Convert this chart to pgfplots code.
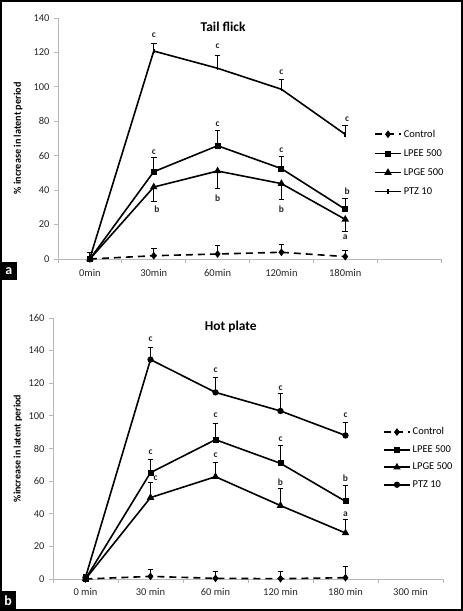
\documentclass[border=0pt]{standalone}
\usepackage{pgfplots}
\pgfplotsset{compat=1.18}
\usepackage{pgfplotstable}
\usepackage{fontspec}
\setmainfont{Carlito}

% Tail flick
\pgfplotstableread{
x y e
0 0 0
1 1.9 4.1
2 2.9 4.7
3 3.9 4.6
4 1.4 3.4
}\tfcontrol
\pgfplotstableread{
x y e
0 0 0
1 50.7 8.3
2 65.8 8.6
3 52.5 6.8
4 28.9 6.5
}\tflpee
\pgfplotstableread{
x y e
0 0 0
1 41.8 8.5
2 51.1 10.4
3 43.8 9.5
4 23.0 7.1
}\tflpge
\pgfplotstableread{
x y e
0 0.5 3
1 120.8 4.5
2 110.8 7.7
3 98.6 5.8
4 72.4 5.1
}\tfptz
% Hot plate
\pgfplotstableread{
x y e
0 0 0
1 1.6 4.5
2 0.4 4.3
3 0.2 4.5
4 0.8 7.0
}\hpcontrol
\pgfplotstableread{
x y e
0 0 0
1 65.2 8.0
2 85.4 10.2
3 70.9 10.8
4 47.6 10.0
}\hplpee
\pgfplotstableread{
x y e
0 0 0
1 49.9 9.1
2 62.7 8.8
3 45.0 10.6
4 28.2 8.2
}\hplpge
\pgfplotstableread{
x y e
0 1 2
1 134.5 7.5
2 114.4 9.4
3 103.0 10.6
4 88.0 7.8
}\hpptz

\pgfplotsset{
  panel/.style={
    scale only axis, clip=false,
    xmin=-0.5, xmax=5.5, ymin=0,
    axis x line*=bottom, axis y line*=left,
    axis line style={draw=gray!55, line width=0.9bp},
    tick align=outside,
    xtick={0,...,5},
    minor xtick={-0.5,0.5,...,5.5},
    major x tick style={draw=none},
    minor x tick style={draw=gray!55, line width=0.9bp},
    ytick style={draw=gray!55, line width=0.9bp},
    major tick length=4bp, minor tick length=4bp,
    tick label style={font=\fontsize{10.5}{12}\selectfont, text=black!85},
    /pgf/number format/assume math mode=true,
    legend style={draw=none, fill=none, font=\fontsize{10.5}{12}\selectfont, cells={anchor=west}, inner sep=0pt, row sep=6.8bp, anchor=north west},
    legend image code/.code={\draw[mark repeat=2,mark phase=2,#1] plot coordinates {(0bp,0bp) (13bp,0bp) (26bp,0bp)};},
  },
  ser/.style={black, line width=1.6bp, mark options={solid},
    error bars/y dir=plus, error bars/y explicit,
    error bars/error bar style={line width=1bp, solid},
    error bars/error mark options={rotate=90, mark size=2.8bp, line width=1bp, solid}},
}
\tikzset{lett/.style={font=\bfseries\fontsize{9.5}{10}\selectfont, text=black!85}}

\begin{document}
\begin{tikzpicture}
\useasboundingbox (0,0) rectangle (463bp,611bp);

% ---------- panel a ----------
\begin{axis}[panel, at={(58bp,352bp)}, anchor=south west,
  width=383bp, height=241bp, ymax=140, ytick={0,20,...,140},
  xticklabels={0min,30min,60min,120min,180min,{}},
  xticklabel style={yshift=-3bp}, yticklabel style={xshift=-1bp},
  ylabel={\% increase in latent period},
  ylabel style={at={(axis description cs:-0.104,0.5)}, anchor=center, font=\bfseries\fontsize{10.2}{12}\selectfont},
  legend style={at={(0.825,0.545)}},
]
\addplot[ser, dashed, dash pattern=on 7bp off 5bp, mark=diamond*, mark size=2.6bp] table[x=x,y=y,y error=e]{\tfcontrol};
\addplot[ser, mark=square*, mark size=2.2bp] table[x=x,y=y,y error=e]{\tflpee};
\addplot[ser, mark=triangle*, mark size=2.8bp, error bars/y dir=minus] table[x=x,y=y,y error=e]{\tflpge};
\addplot[ser, mark=|, mark size=2.2bp] table[x=x,y=y,y error=e]{\tfptz};
\legend{Control,LPEE 500,LPGE 500,PTZ 10}
\node[font=\bfseries\fontsize{13.5}{15}\selectfont] at (rel axis cs:0.431,0.963) {Tail flick};
\node[lett] at (axis cs:1,130.1) {c};
\node[lett] at (axis cs:2,123.4) {c};
\node[lett] at (axis cs:3,108.3) {c};
\node[lett] at (axis cs:4.03,81.3) {c};
\node[lett] at (axis cs:1,62.3) {c};
\node[lett] at (axis cs:2,78.2) {c};
\node[lett] at (axis cs:3,63.3) {c};
\node[lett] at (axis cs:4.03,39.1) {b};
\node[lett] at (axis cs:1.05,29.1) {b};
\node[lett] at (axis cs:2,35.4) {b};
\node[lett] at (axis cs:3,29.1) {b};
\node[lett] at (axis cs:4,12.4) {a};
\end{axis}

% ---------- panel b ----------
\begin{axis}[panel, at={(53bp,32bp)}, anchor=south west,
  width=390bp, height=261bp, ymax=160, ytick={0,20,...,160},
  xticklabels={0 min,30 min,60 min,120 min,180 min,300 min},
  xticklabel style={yshift=-2bp}, yticklabel style={xshift=-1bp},
  ylabel={\%increase in latent period},
  ylabel style={at={(axis description cs:-0.09,0.5)}, anchor=center, font=\bfseries\fontsize{10}{12}\selectfont},
  legend style={at={(0.846,0.588)}, row sep=5.2bp},
]
\addplot[ser, dashed, dash pattern=on 7bp off 5bp, mark=diamond*, mark size=2.6bp] table[x=x,y=y,y error=e]{\hpcontrol};
\addplot[ser, mark=square*, mark size=2.2bp] table[x=x,y=y,y error=e]{\hplpee};
\addplot[ser, mark=triangle*, mark size=2.8bp] table[x=x,y=y,y error=e]{\hplpge};
\addplot[ser, mark=*, mark size=2.3bp] table[x=x,y=y,y error=e]{\hpptz};
\legend{Control,LPEE 500,LPGE 500,PTZ 10}
\node[font=\bfseries\fontsize{13.5}{15}\selectfont] at (rel axis cs:0.456,0.966) {Hot plate};
\node[lett] at (axis cs:1,146.7) {c};
\node[lett] at (axis cs:2,128.3) {c};
\node[lett] at (axis cs:3,117.1) {c};
\node[lett] at (axis cs:4,100.7) {c};
\node[lett] at (axis cs:1,77.9) {c};
\node[lett] at (axis cs:2,100.3) {c};
\node[lett] at (axis cs:3,85.8) {c};
\node[lett] at (axis cs:4,61.9) {b};
\node[lett] at (axis cs:1.08,61.9) {c};
\node[lett] at (axis cs:2,75.8) {c};
\node[lett] at (axis cs:3,59.1) {b};
\node[lett] at (axis cs:4,39.8) {a};
\end{axis}

% frame and panel tags
\draw[line width=2bp] (1bp,1bp) rectangle (462bp,610bp);
\node[fill=black, text=white, font=\bfseries\fontsize{14}{14}\selectfont, minimum width=17bp, minimum height=18bp, inner sep=0pt, anchor=south west] at (0bp,331bp) {a};
\node[fill=black, text=white, font=\bfseries\fontsize{14}{14}\selectfont, minimum width=16bp, minimum height=20bp, inner sep=0pt, anchor=south west] at (0bp,0bp) {b};
\end{tikzpicture}
\end{document}
